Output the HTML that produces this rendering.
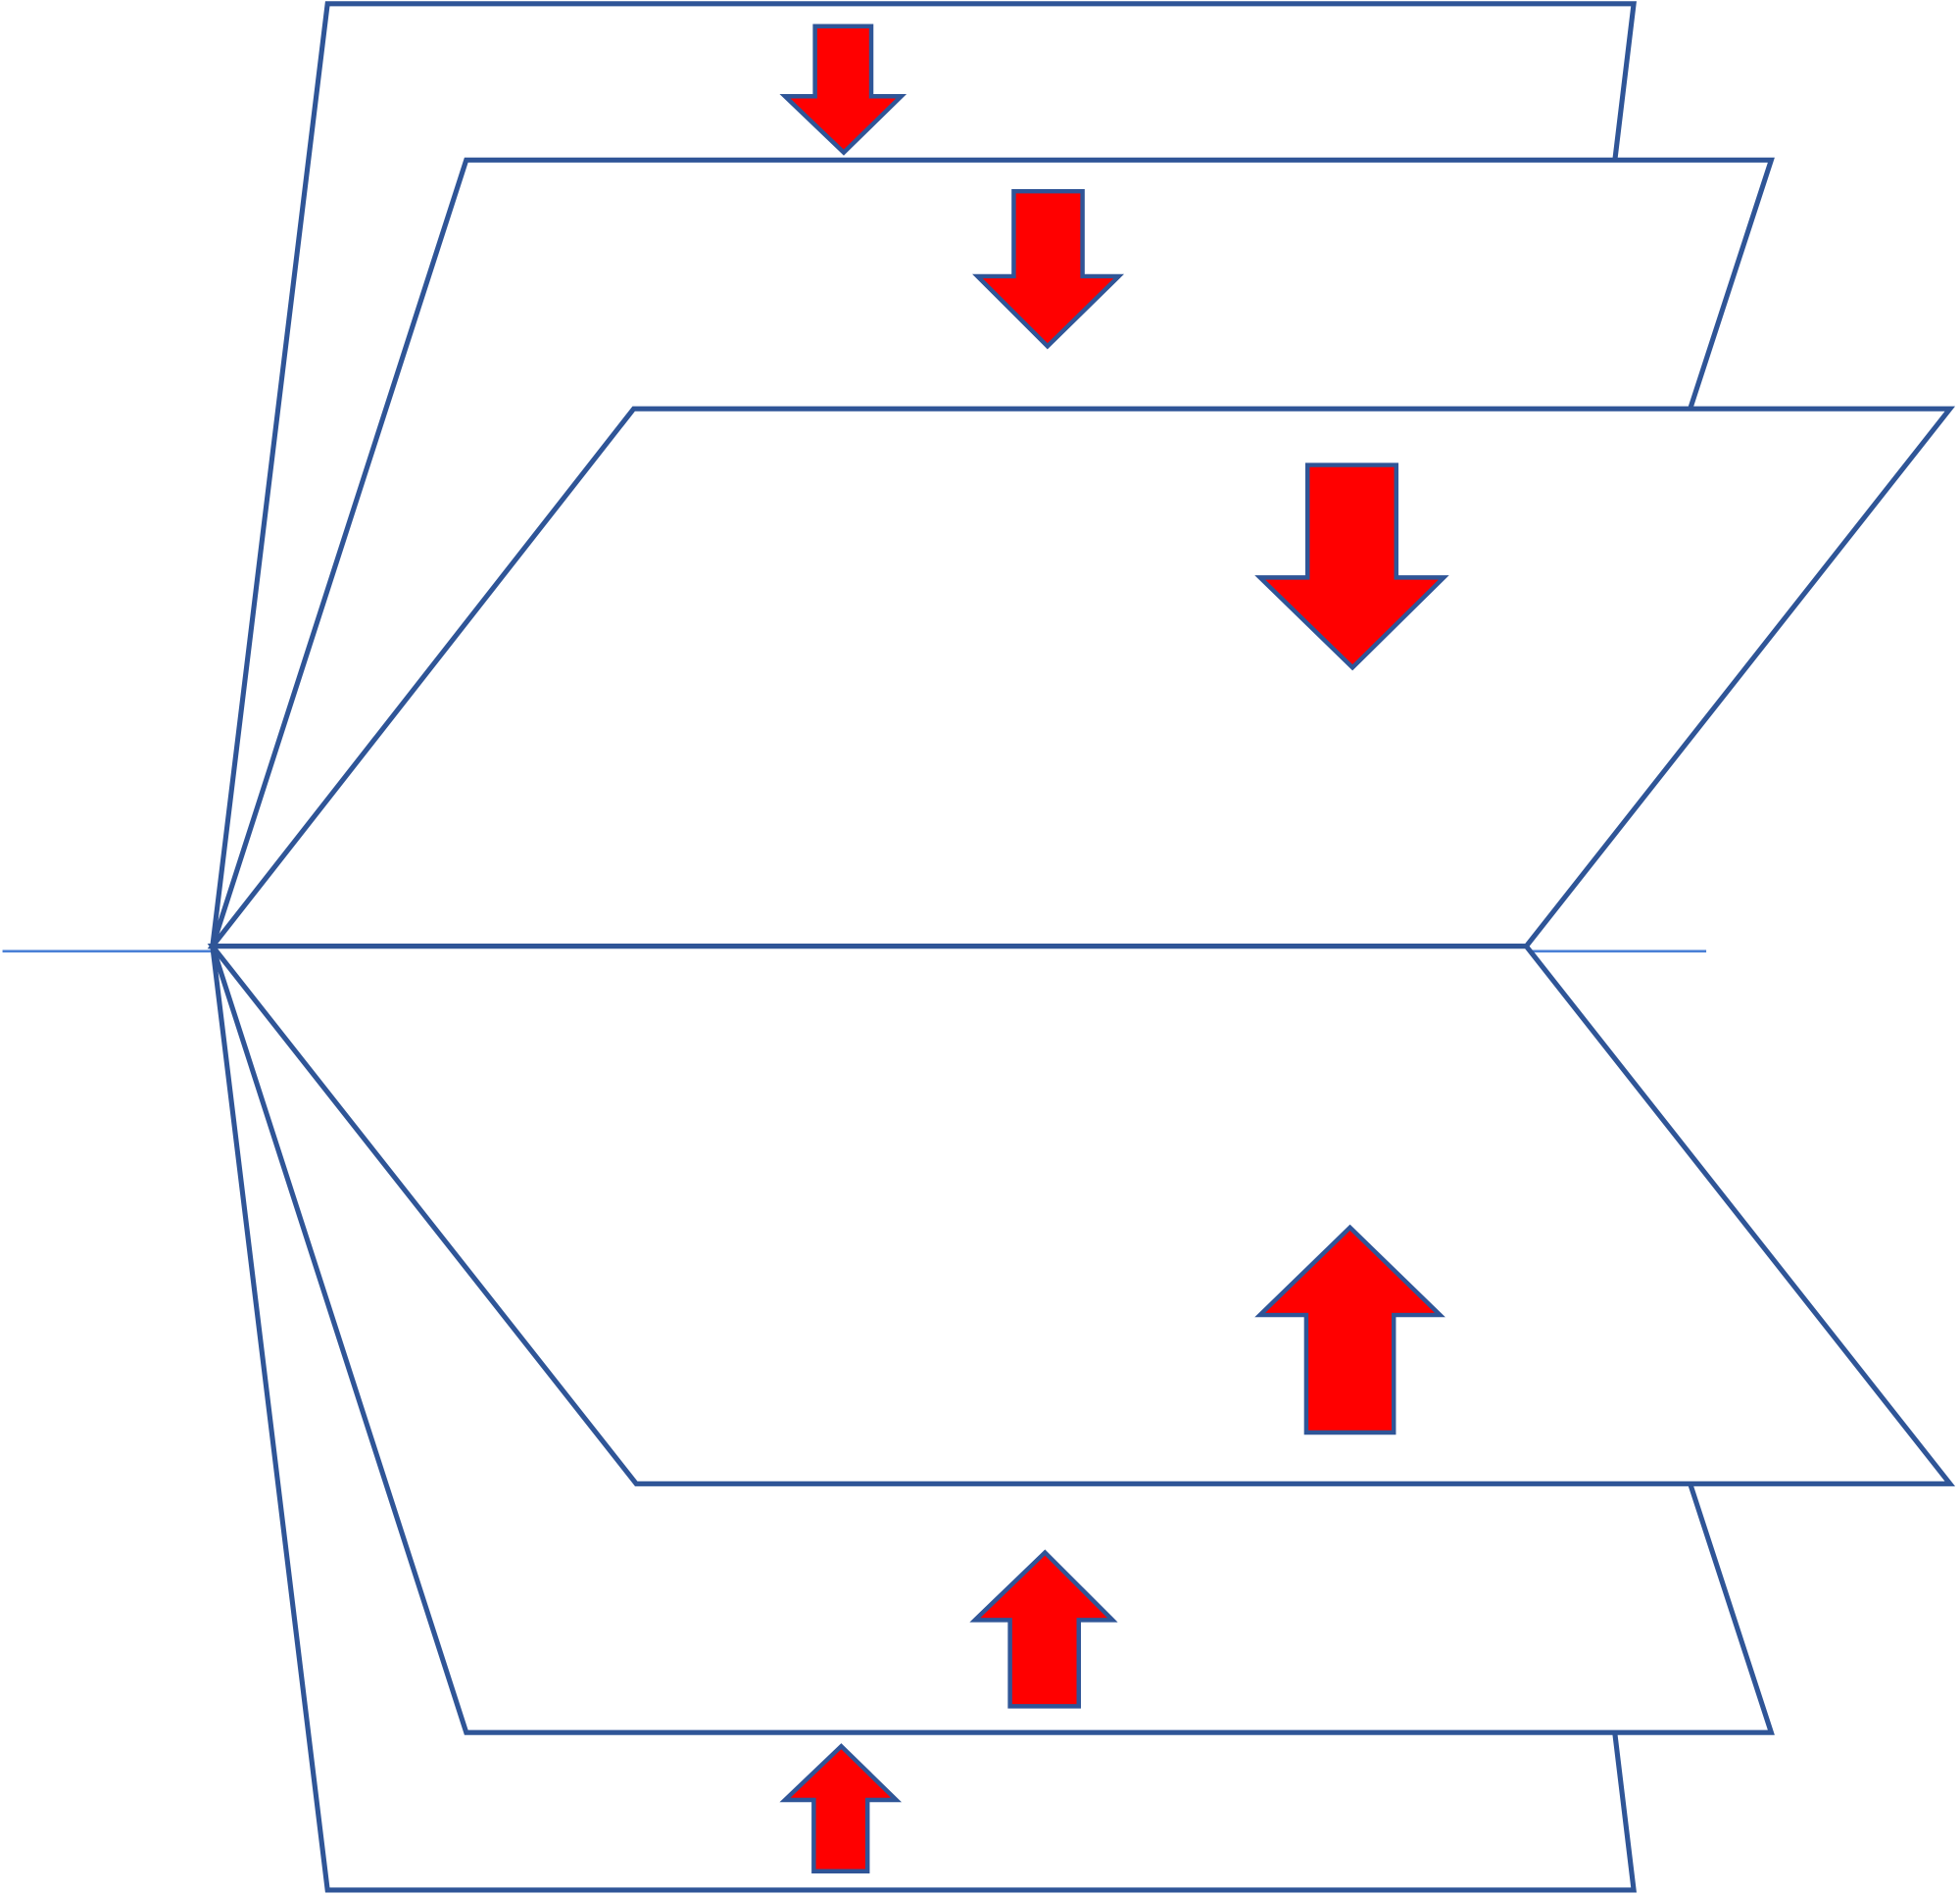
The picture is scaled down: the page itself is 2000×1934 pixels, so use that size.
<!DOCTYPE html>
<html><head><meta charset="utf-8"><style>html,body{margin:0;padding:0;background:#fff}svg{display:block}</style></head>
<body>
<svg width="2000" height="1934" viewBox="0 0 1568 1516" preserveAspectRatio="none" xmlns="http://www.w3.org/2000/svg">
<line x1="2" y1="761" x2="1365" y2="761" stroke="#4a7fd6" stroke-width="2"/>
<g fill="#fff" stroke="#2f5597" stroke-width="4" stroke-linejoin="miter">
<polygon points="262,3 1307,3 1216,757 170,757"/>
<polygon points="373,128 1417,128 1212,757 170,757"/>
<polygon points="507,327 1560,327 1221,757 170,757"/>
<polygon points="262,1512 1307,1512 1216,757 170,757"/>
<polygon points="373,1386 1417,1386 1212,757 170,757"/>
<polygon points="509,1187 1560,1187 1221,757 170,757"/>
</g>
<g fill="#ff0000" stroke="#2f5597" stroke-width="3.5">
<polygon points="652,21 697,21 697,77 721,77 675,122 628,77 652,77"/>
<polygon points="811,153 866,153 866,221 895,221 838,277 782,221 811,221"/>
<polygon points="1046,372 1117,372 1117,462 1155,462 1082,534 1008,462 1046,462"/>
<polygon points="1045,1146 1115,1146 1115,1052 1152,1052 1080,982 1008,1052 1045,1052"/>
<polygon points="808,1365 863,1365 863,1296 890,1296 836,1242 780,1296 808,1296"/>
<polygon points="651,1497 694,1497 694,1440 717,1440 673,1397 628,1440 651,1440"/>
</g>
</svg>
</body></html>
